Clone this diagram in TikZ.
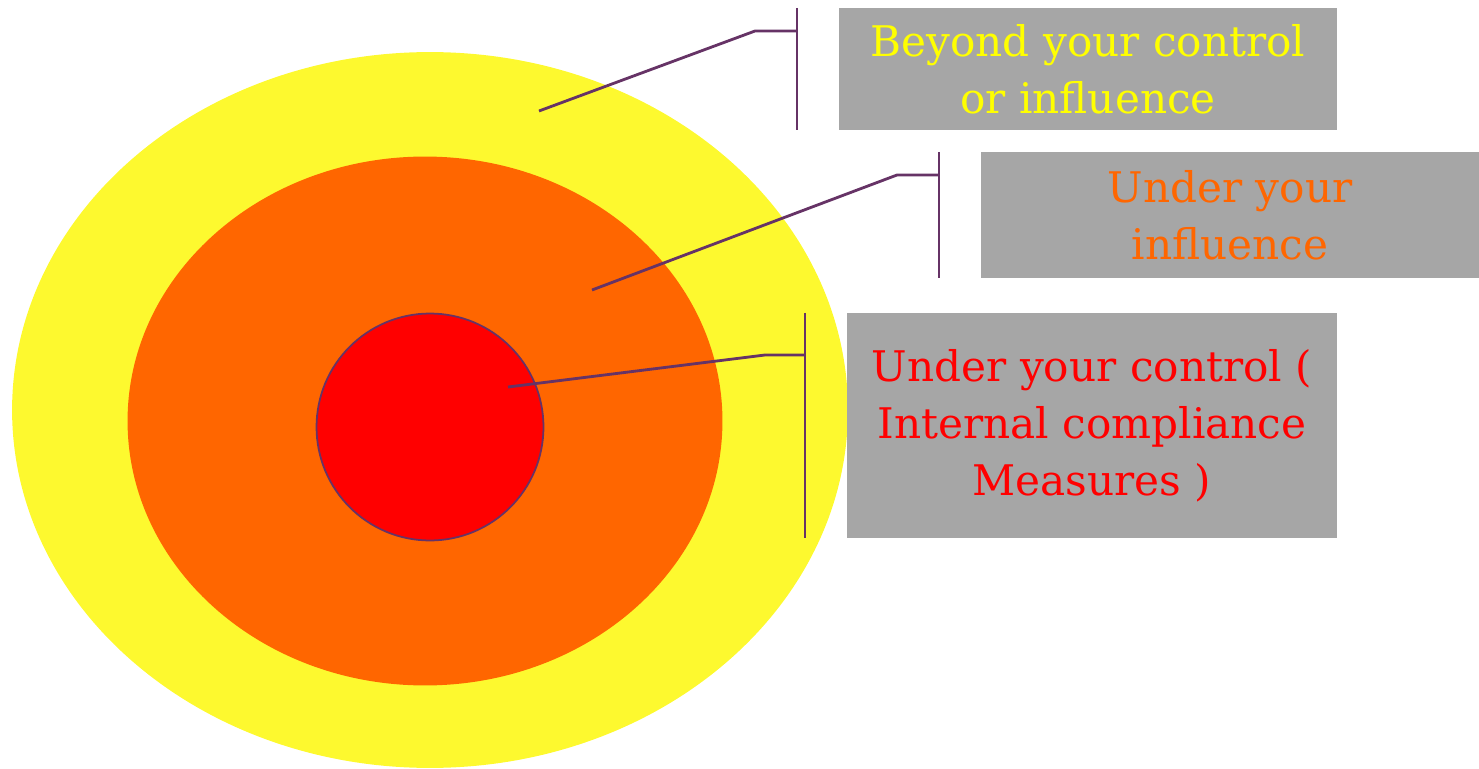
\documentclass[tikz,border=0pt]{standalone}
\usepackage{fontspec}
\setmainfont{DejaVu Serif}
\usetikzlibrary{shapes.geometric}
\definecolor{ringyellow}{HTML}{FDF92F}
\definecolor{ringorange}{HTML}{FF6600}
\definecolor{ringred}{HTML}{FF0000}
\definecolor{boxgray}{HTML}{A6A6A6}
\definecolor{linepurple}{HTML}{663366}
\definecolor{textyellow}{HTML}{FFFF00}
\begin{document}
\begin{tikzpicture}[x=0.02cm,y=0.02cm]
 	\tikzstyle{ring}=[ellipse,draw=none,inner sep=0pt]
 	\tikzstyle{l-box}=[rectangle,fill=boxgray,inner sep=0pt,align=center,font=\fontsize{24}{32.4}\selectfont]
 	\tikzstyle{lead}=[draw=linepurple,line width=1.6pt]
 	\useasboundingbox (0,0) rectangle (1479,768);
 	% rings
 	\node[ring,fill=ringyellow,minimum width=16.72cm,minimum height=14.32cm] (outer) at (430,358) {};
 	\node[ring,fill=ringorange,minimum width=11.9cm,minimum height=10.58cm] (middle) at (425,347) {};
 	\node[circle,fill=ringred,draw=linepurple,line width=1pt,inner sep=0pt,minimum size=4.54cm] (inner) at (430,341) {};
 	% label boxes
 	\node[l-box,text=textyellow,minimum width=9.96cm,minimum height=2.44cm] (beyond) at (1088,699) {Beyond your control\\or influence};
 	\node[l-box,text=ringorange,minimum width=9.96cm,minimum height=2.52cm] (influence) at (1230,553) {Under your\\influence};
 	\node[l-box,text=ringred,minimum width=9.8cm,minimum height=4.5cm] (control) at (1092,342.5) {Under your control (\\Internal compliance\\Measures )};
 	% leader lines
 	\coordinate (o-pt) at (539,657);
 	\coordinate (o-bend) at (755,737);
 	\coordinate (o-mid) at (797,737);
 	\coordinate (o-top) at (797,760);
 	\coordinate (o-bot) at (797,638);
 	\coordinate (m-pt) at (592,478);
 	\coordinate (m-bend) at (897,593);
 	\coordinate (m-mid) at (939,593);
 	\coordinate (m-top) at (939,616);
 	\coordinate (m-bot) at (939,490);
 	\coordinate (i-pt) at (508,381);
 	\coordinate (i-bend) at (765,413);
 	\coordinate (i-mid) at (805,413);
 	\coordinate (i-top) at (805,455);
 	\coordinate (i-bot) at (805,230);
 	\draw[lead] (o-pt) -- (o-bend) -- (o-mid);
 	\draw[lead] (o-top) -- (o-bot);
 	\draw[lead] (m-pt) -- (m-bend) -- (m-mid);
 	\draw[lead] (m-top) -- (m-bot);
 	\draw[lead] (i-pt) -- (i-bend) -- (i-mid);
 	\draw[lead] (i-top) -- (i-bot);
\end{tikzpicture}
\end{document}
